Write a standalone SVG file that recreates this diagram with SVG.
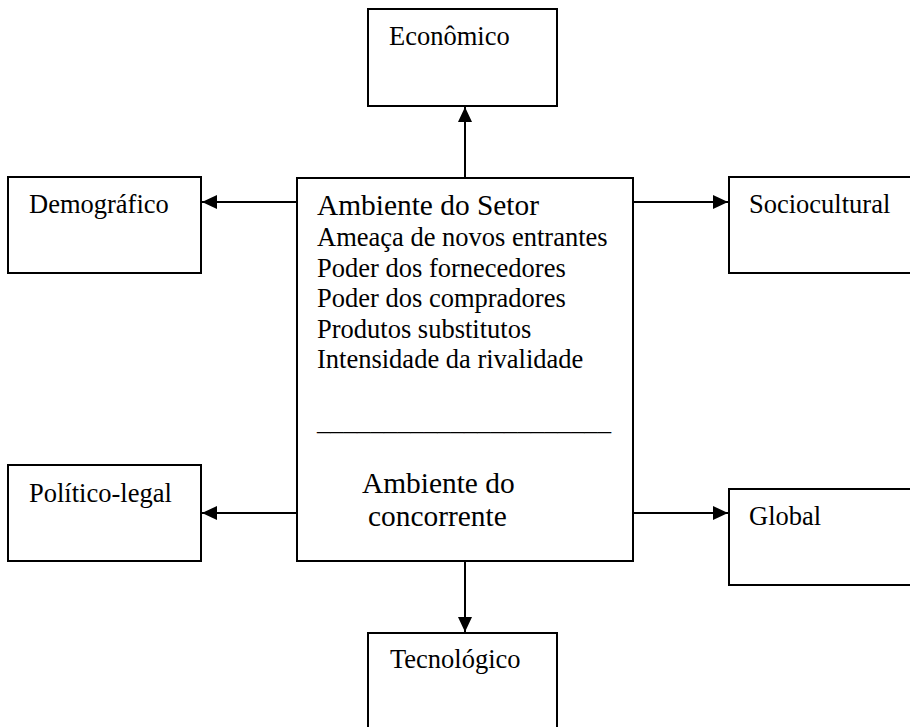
<svg xmlns="http://www.w3.org/2000/svg" width="910" height="727" viewBox="0 0 910 727">
<defs>
<marker id="ah" markerUnits="userSpaceOnUse" markerWidth="15" markerHeight="14" refX="15" refY="7" orient="auto">
<path d="M0,0 L15,7 L0,14 z" fill="#000"/>
</marker>
</defs>
<rect width="910" height="727" fill="#fff"/>
<g id="connectors" stroke="#000" stroke-width="2" fill="none" marker-end="url(#ah)">
<line x1="465" y1="178" x2="465" y2="107"/>
<line x1="465" y1="561" x2="465" y2="632"/>
<line x1="297" y1="202" x2="202" y2="202"/>
<line x1="297" y1="513" x2="202" y2="513"/>
<line x1="633" y1="202" x2="728" y2="202"/>
<line x1="633" y1="513" x2="728" y2="513"/>
</g>
<g font-family="Liberation Serif" font-size="26.5" fill="#000">
<g id="center">
<rect x="297" y="178" width="336" height="383" fill="#fff" stroke="#000" stroke-width="2"/>
<text font-size="29.4" x="317" y="215">Ambiente do Setor</text>
<text x="317" y="246">Ameaça de novos entrantes</text>
<text x="317" y="276.6">Poder dos fornecedores</text>
<text x="317" y="307.2">Poder dos compradores</text>
<text x="317" y="337.8">Produtos substitutos</text>
<text x="317" y="368.4">Intensidade da rivalidade</text>
<text x="317" y="430" textLength="294" lengthAdjust="spacingAndGlyphs">______________________</text>
<text font-size="29.4" x="362" y="493">Ambiente do</text>
<text font-size="29.4" x="368" y="526">concorrente</text>
</g>
<g id="economico">
<rect x="368" y="9" width="189" height="97" fill="#fff" stroke="#000" stroke-width="2"/>
<text x="389" y="45">Econômico</text>
</g>
<g id="tecnologico">
<rect x="368" y="633" width="189" height="110" fill="#fff" stroke="#000" stroke-width="2"/>
<text x="390" y="668">Tecnológico</text>
</g>
<g id="demografico">
<rect x="8" y="177" width="193" height="96" fill="#fff" stroke="#000" stroke-width="2"/>
<text x="29" y="213">Demográfico</text>
</g>
<g id="politico-legal">
<rect x="8" y="465" width="193" height="96" fill="#fff" stroke="#000" stroke-width="2"/>
<text x="29" y="502">Político-legal</text>
</g>
<g id="sociocultural">
<rect x="729" y="177" width="200" height="96" fill="#fff" stroke="#000" stroke-width="2"/>
<text x="749" y="213">Sociocultural</text>
</g>
<g id="global">
<rect x="729" y="489" width="200" height="96" fill="#fff" stroke="#000" stroke-width="2"/>
<text x="749" y="525">Global</text>
</g>
</g>
</svg>
